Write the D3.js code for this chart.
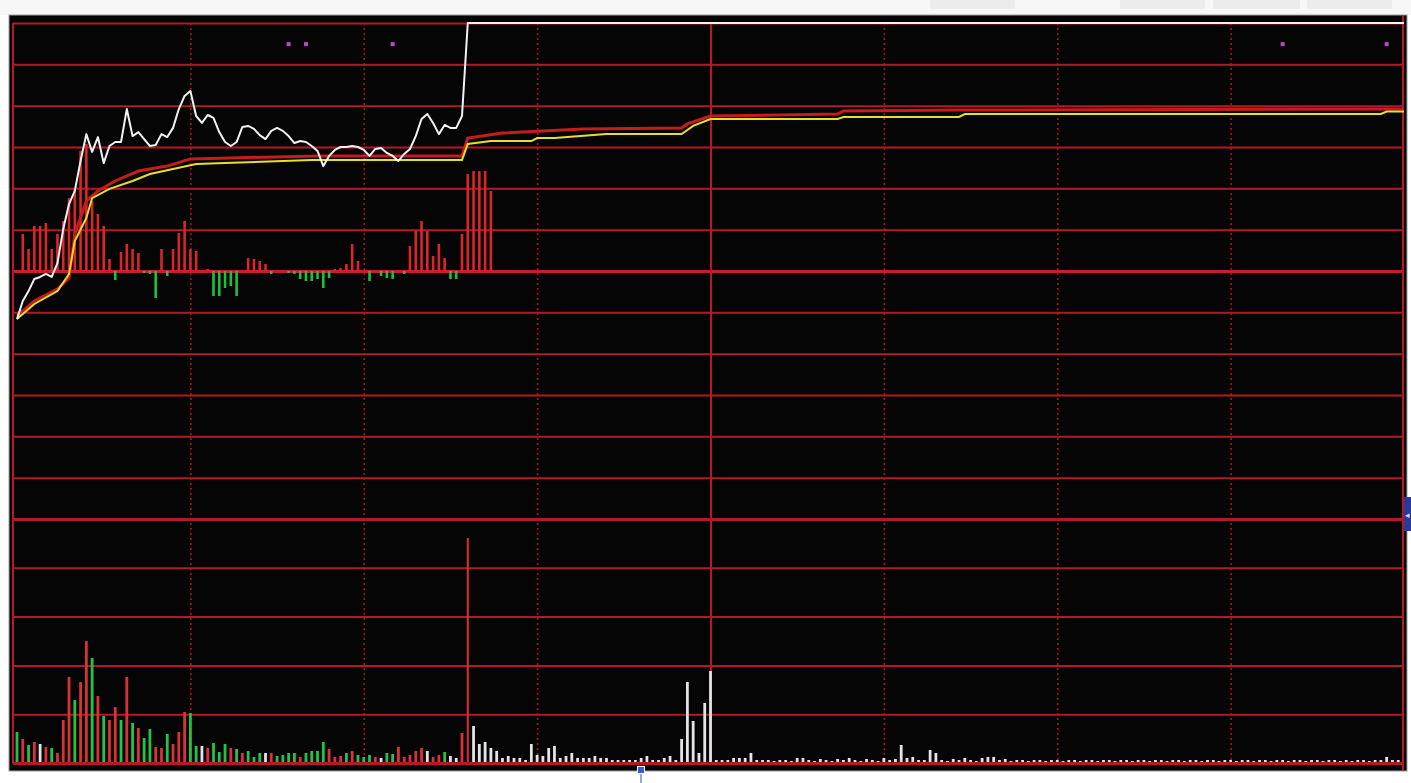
<!DOCTYPE html>
<html><head><meta charset="utf-8">
<script src="https://cdn.jsdelivr.net/npm/d3@7"></script>
<style>html,body{margin:0;padding:0;background:#fff;overflow:hidden}</style>
</head><body><svg id="c" width="1411" height="783"></svg>
<script>
// ---------- data (minutes after 9:30, % change vs. previous close) ----------
const sessionMinutes = 240;
const timeTicks = [0, 30, 60, 90, 120, 150, 180, 210, 240];
const priceTicks = [-10, -8.333, -6.667, -5, -3.333, -1.667, 0, 1.667, 3.333, 5, 6.667, 8.333, 10];
const volTicks = [0, 48.8, 97.6, 146.4, 195.2, 244];

// last price, minute 0..78 (limit-up reached at minute 78, then held)
const pricePct = [-1.94,-1.21,-0.81,-0.32,-0.24,-0.12,-0.24,0.32,1.69,2.70,
  3.23,4.44,5.52,4.80,5.40,4.35,5.04,5.20,5.20,6.53,
  5.44,5.60,5.32,5.04,5.08,5.52,5.40,5.77,6.53,7.06,
  7.26,6.25,5.97,6.29,6.17,5.60,5.20,5.04,5.20,5.81,
  5.85,5.73,5.48,5.32,5.65,5.77,5.65,5.44,5.16,5.24,
  5.20,5.04,4.84,4.23,4.64,4.88,5.00,5.00,5.04,5.00,
  4.88,4.64,4.92,4.96,4.76,4.64,4.44,4.72,4.92,5.44,
  6.13,6.33,5.97,5.52,5.89,5.77,5.77,6.25,10.0];
const limitUpPct = 10.0;

// average-price lines: [minute, %]
const avgYellow = [[0,-1.94],[3,-1.33],[7,-0.81],[9,-0.12],[10,1.21],[12,2.14],[13,2.94],[16,3.31],
  [20,3.63],[23,3.91],[27,4.11],[31,4.31],[36,4.35],[51,4.48],[77,4.48],[78,5.12],[82,5.24],
  [89,5.24],[90,5.36],[93,5.36],[102,5.52],[115,5.52],[117,5.85],[120,6.13],[142,6.13],
  [143,6.21],[163,6.21],[164,6.33],[236,6.33],[237,6.43],[240,6.43]];
const avgRed = [[0,-1.81],[3,-1.21],[7,-0.73],[9,-0.28],[10,1.49],[12,2.82],[14,3.23],[17,3.63],
  [21,4.03],[26,4.23],[30,4.52],[37,4.56],[52,4.64],[77,4.64],[78,5.36],[84,5.56],[98,5.73],
  [115,5.77],[116,5.93],[120,6.25],[142,6.33],[143,6.45],[163,6.49],[240,6.53]];

// buy/sell strength bars, minute 0..82
const power = [0,37,22,45,45,48,22,37,50,73,
  83,120,127,70,57,45,12,-9,19,27,
  22,18,-2,-3,-27,22,-5,22,38,50,
  22,20,0,2,-25,-25,-17,-15,-25,0,
  13,12,10,7,-3,0,0,-2,-3,-8,
  -10,-10,-8,-17,-7,2,3,7,27,10,
  0,-10,0,-5,-7,-8,0,-3,25,40,
  50,40,15,27,13,-8,-8,37,97,100,
  100,100,80];

// per-minute volume, minute 0..239
const volume = [31,24,18,21,19,16,15,10,43,86,
  63,81,122,105,67,47,43,56,43,86,
  40,35,25,34,16,15,29,19,31,51,
  50,17,17,15,20,11,19,15,14,10,
  12,6,10,10,10,7,8,10,10,6,
  10,12,12,21,14,6,7,10,12,8,
  6,8,6,5,10,9,16,6,8,12,
  15,12,6,8,11,7,5,30,225,37,
  19,21,15,12,5,7,5,5,3,19,
  8,7,15,17,5,7,10,5,5,5,
  7,5,5,3,3,3,3,3,5,7,
  3,3,5,7,3,24,81,42,10,60,
  92,3,3,3,5,5,5,10,3,3,
  3,2,3,3,2,5,5,3,2,4,
  3,2,4,3,5,3,2,4,3,2,
  5,3,4,18,5,6,3,3,13,10,
  3,2,4,3,5,3,2,5,6,6,
  3,4,2,3,3,2,3,3,2,3,
  3,2,3,3,2,3,3,2,3,3,
  2,3,3,2,3,3,2,3,3,2,
  3,3,2,3,3,2,3,3,2,3,
  3,2,3,3,2,3,3,2,3,3,
  2,3,3,2,3,3,2,3,3,2,
  3,2,3,3,2,3,3,6,3,3];
// price direction of each minute: 1 up, -1 down, 0 flat (minutes beyond list are flat)
const volDir = [-1,1,-1,1,0,1,-1,1,1,1,
  -1,1,1,-1,1,-1,1,1,-1,1,
  -1,1,-1,-1,1,1,-1,1,1,1,
  -1,-1,0,1,-1,-1,-1,1,-1,1,
  -1,-1,-1,0,1,-1,-1,-1,-1,1,
  -1,-1,-1,-1,1,1,1,-1,1,-1,
  -1,-1,1,0,-1,-1,1,1,1,1,
  1,0,1,1,-1,0,0,1,1];

const signalMinutes = [47, 50, 65, 219, 237];
const signalPct = 9.15;

// ---------- drawing ----------
const svg = d3.select('#c');
const W = 1411, H = 783;
const x = d3.scaleLinear().domain([0, sessionMinutes]).range([17, 1404]);
const yP = d3.scaleLinear().domain([-10, 10]).range([519, 23]);
const yPow = d3.scaleLinear().domain([-248, 248]).range([519, 23]);
const yV = d3.scaleLinear().domain([0, 244]).range([763, 519]);
const L = 13, R = 1403;

// header strip
svg.append('rect').attr('x',0).attr('y',0).attr('width',W).attr('height',15).attr('fill','#f7f7f7');
[[930,85],[1120,85],[1213,87],[1307,85]].forEach(([a,w]) =>
  svg.append('rect').attr('x',a).attr('y',0).attr('width',w).attr('height',9).attr('fill','#ececec'));

// black panel
svg.append('rect').attr('x',9).attr('y',15).attr('width',1398).attr('height',756)
  .attr('fill','#050505').attr('stroke','#a0a0a0').attr('stroke-width',1);

const grid = svg.append('g');
const gridColor = '#b41a26';

// horizontal price grid (axis)
const gP = grid.append('g').attr('transform',`translate(${L},0)`)
  .call(d3.axisRight(yP).tickValues(priceTicks).tickSize(R-L).tickFormat(''));
gP.select('.domain').remove();
gP.selectAll('line').attr('stroke', d => Math.abs(d) < 0.01 ? '#c81e2a' : gridColor)
  .attr('stroke-width', d => (Math.abs(d) < 0.01 || d === -10) ? 3 : 2);

// horizontal volume grid (axis)
const gV = grid.append('g').attr('transform',`translate(${L},0)`)
  .call(d3.axisRight(yV).tickValues(volTicks).tickSize(R-L).tickFormat(''));
gV.select('.domain').remove();
gV.selectAll('line').attr('stroke',gridColor).attr('stroke-width', d => d === 0 ? 3 : 2);

// vertical time grid (axis)
const gT = grid.append('g').attr('transform','translate(0,23)')
  .call(d3.axisBottom(x).tickValues(timeTicks.slice(1, -1)).tickSize(740).tickFormat(''));
gT.select('.domain').remove();
gT.selectAll('line').attr('stroke', gridColor)
  .attr('stroke-width', d => d === 120 ? 2 : 1.6)
  .attr('stroke-dasharray', d => d === 120 ? null : '2,3')
  .attr('opacity', d => d === 120 ? 1 : 0.9);

// borders
grid.append('line').attr('x1',L).attr('x2',L).attr('y1',23).attr('y2',764).attr('stroke',gridColor).attr('stroke-width',2);
grid.append('line').attr('x1',R).attr('x2',R).attr('y1',16).attr('y2',770).attr('stroke',gridColor).attr('stroke-width',2);

// strength bars
svg.append('g').selectAll('line').data(power.map((v,i)=>({i,v})).filter(d=>d.v!==0)).join('line')
  .attr('x1', d => x(d.i)).attr('x2', d => x(d.i))
  .attr('y1', yPow(0)).attr('y2', d => yPow(d.v))
  .attr('stroke', d => d.v > 0 ? '#d9262a' : '#1fc13c').attr('stroke-width', 2.6);

// volume bars
const volColor = d => { const s = d.i < volDir.length ? volDir[d.i] : 0;
  return s > 0 ? '#d83236' : s < 0 ? '#25c345' : '#e4e4e4'; };
svg.append('g').selectAll('line').data(volume.map((v,i)=>({i,v}))).join('line')
  .attr('x1', d => x(d.i)).attr('x2', d => x(d.i))
  .attr('y1', yV(0) - 1).attr('y2', d => yV(d.v))
  .attr('stroke', volColor).attr('stroke-width', d => d.v > 150 ? 2 : 2.8);

// average lines
const lineP = d3.line().x(d => x(d[0])).y(d => yP(d[1]));
svg.append('path').datum(avgRed).attr('d', lineP).attr('fill','none')
  .attr('stroke','#c81c1c').attr('stroke-width',3);
svg.append('path').datum(avgYellow).attr('d', lineP).attr('fill','none')
  .attr('stroke','#e8df2a').attr('stroke-width',2);

// price line
const pricePts = pricePct.map((p,i)=>[i,p]).concat([[sessionMinutes, limitUpPct]]);
svg.append('path').datum(pricePts).attr('d', lineP).attr('fill','none')
  .attr('stroke','#f2f2f2').attr('stroke-width',2).attr('stroke-linejoin','round');

// signal dots
svg.append('g').selectAll('rect').data(signalMinutes).join('rect')
  .attr('x', d => x(d) - 2).attr('y', yP(signalPct) - 2).attr('width',4).attr('height',4)
  .attr('fill','#c044c8');

// UI markers
svg.append('rect').attr('x',1404).attr('y',497).attr('width',7).attr('height',34).attr('fill','#2a3a9a');
svg.append('text').attr('x',1405).attr('y',518).attr('font-size',9).attr('fill','#ddd')
  .attr('font-family','DejaVu Sans').text('◂');
svg.append('rect').attr('x',637.5).attr('y',766.5).attr('width',7).attr('height',7)
  .attr('fill','#2f5fd0').attr('stroke','#ffffff').attr('stroke-width',1);
svg.append('line').attr('x1',641).attr('x2',641).attr('y1',774).attr('y2',783).attr('stroke','#3050a0');
</script></body></html>
